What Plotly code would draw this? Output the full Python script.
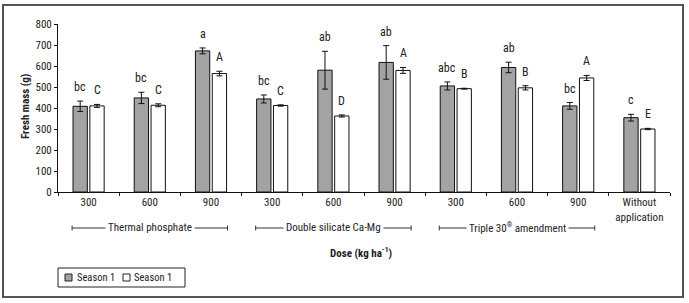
import plotly.graph_objects as go

dose_labels = ["300", "600", "900", "300", "600", "900", "300", "600", "900", "Without<br>application"]
season1_gray = [408, 448, 672, 443, 580, 617, 505, 593, 410, 354]
season1_gray_err = [25, 27, 14, 19, 90, 80, 19, 25, 16, 16]
season1_white = [410, 413, 564, 412, 362, 579, 492, 496, 543, 300]
season1_white_err = [7, 7, 11, 3, 5, 14, 2, 10, 12, 3]
letters_gray = ["bc", "bc", "a", "bc", "ab", "ab", "abc", "ab", "bc", "c"]
letters_white = ["C", "C", "A", "C", "D", "A", "B", "B", "A", "E"]
sources = ["Thermal phosphate", "Double silicate Ca-Mg",
           "Triple 30<sup><span style='font-size:7px'>®</span></sup> amendment"]
series_names = ["Season 1", "Season 1"]
series_colors = ["#a3a3a3", "#ffffff"]

FONT = "Liberation Sans Narrow, Arial Narrow, Roboto Condensed, Liberation Sans, sans-serif"
TXT = "#222222"

W, H = 689, 303
L, R, T, B = 58, 19, 24, 111
PW = W - L - R
PH = H - T - B


def px_x(x):
    return (x - L) / PW


def px_y(y):
    return (H - B - y) / PH


x = list(range(len(dose_labels)))

fig = go.Figure()
fig.add_trace(go.Bar(
    x=x, y=season1_gray, name=series_names[0], showlegend=False,
    marker=dict(color=series_colors[0], line=dict(color="#111111", width=1)),
    error_y=dict(type="data", array=season1_gray_err, color="#111111", thickness=1, width=3),
))
fig.add_trace(go.Bar(
    x=x, y=season1_white, name=series_names[1], showlegend=False,
    marker=dict(color=series_colors[1], line=dict(color="#111111", width=1)),
    error_y=dict(type="data", array=season1_white_err, color="#111111", thickness=1, width=3),
))

annotations = []
for i in x:
    annotations.append(dict(x=i, y=season1_gray[i] + season1_gray_err[i], text=letters_gray[i],
                            xshift=-8.5, yshift=5, yanchor="bottom", showarrow=False,
                            font=dict(family=FONT, size=12, color=TXT)))
    annotations.append(dict(x=i, y=season1_white[i] + season1_white_err[i], text=letters_white[i],
                            xshift=8.5, yshift=5, yanchor="bottom", showarrow=False,
                            font=dict(family=FONT, size=12, color=TXT)))

shapes = []
gy = px_y(228)
cap = 2.5 / PH
for g, name in enumerate(sources):
    a, b = 3 * g - 0.27, 3 * g + 2.27
    shapes.append(dict(type="line", xref="x", yref="paper", x0=a, x1=b, y0=gy, y1=gy,
                       line=dict(color="#333333", width=1)))
    for xx in (a, b):
        shapes.append(dict(type="line", xref="x", yref="paper", x0=xx, x1=xx, y0=gy - cap, y1=gy + cap,
                           line=dict(color="#333333", width=1)))
    annotations.append(dict(x=3 * g + 1, y=gy, xref="x", yref="paper", text=name, showarrow=False,
                            bgcolor="white", borderpad=2, yanchor="middle",
                            font=dict(family=FONT, size=11, color=TXT)))

annotations.append(dict(x=px_x(25), y=px_y(107), xref="paper", yref="paper", text="<b>Fresh mass (g)</b>",
                        textangle=-90, showarrow=False, xanchor="center", yanchor="middle",
                        font=dict(family=FONT, size=11, color=TXT)))
annotations.append(dict(x=px_x(361), y=px_y(252), xref="paper", yref="paper",
                        text="<b>Dose (kg ha<sup>-1</sup>)</b>", showarrow=False,
                        xanchor="center", yanchor="middle",
                        font=dict(family=FONT, size=11, color=TXT)))

# outer frame
shapes.append(dict(type="rect", xref="paper", yref="paper",
                   x0=px_x(3), x1=px_x(683), y0=px_y(297), y1=px_y(5),
                   line=dict(color="#555555", width=2), layer="below"))

# legend (drawn manually for compact layout)
shapes.append(dict(type="rect", xref="paper", yref="paper",
                   x0=px_x(58), x1=px_x(185), y0=px_y(287), y1=px_y(268),
                   line=dict(color="#222222", width=1), fillcolor="white"))
for k, (lx, tx) in enumerate([(65, 75), (123, 132)]):
    shapes.append(dict(type="rect", xref="paper", yref="paper",
                       x0=px_x(lx), x1=px_x(lx + 7), y0=px_y(281), y1=px_y(274),
                       line=dict(color="#222222", width=1), fillcolor=series_colors[k]))
    annotations.append(dict(x=px_x(tx), y=px_y(277.5), xref="paper", yref="paper",
                            text=series_names[k], showarrow=False, xanchor="left", yanchor="middle",
                            font=dict(family=FONT, size=10.5, color=TXT)))

fig.update_layout(
    width=W, height=H,
    margin=dict(l=L, r=R, t=T, b=B),
    paper_bgcolor="white", plot_bgcolor="white",
    barmode="group", bargap=0.45, bargroupgap=0.15,
    font=dict(family=FONT, size=11, color=TXT),
    showlegend=False,
    annotations=annotations,
    shapes=shapes,
    xaxis=dict(range=[-0.5, 9.5], tickmode="array", tickvals=x, ticktext=dose_labels,
               showline=True, linecolor="#111111", linewidth=1, showgrid=False, zeroline=False,
               ticks="", tickfont=dict(family=FONT, size=11, color=TXT),
               minor=dict(tickmode="array", tickvals=[i - 0.5 for i in range(11)],
                          ticks="outside", ticklen=3, tickcolor="#111111", showgrid=False)),
    yaxis=dict(range=[0, 800], dtick=100, showline=True, linecolor="#111111", linewidth=1,
               showgrid=False, zeroline=False, ticks="outside", ticklen=3, tickcolor="#111111",
               tickfont=dict(family=FONT, size=11, color=TXT)),
)

fig.write_html("out.html", config={"displayModeBar": False},
               post_script="document.body.style.margin='0';")
